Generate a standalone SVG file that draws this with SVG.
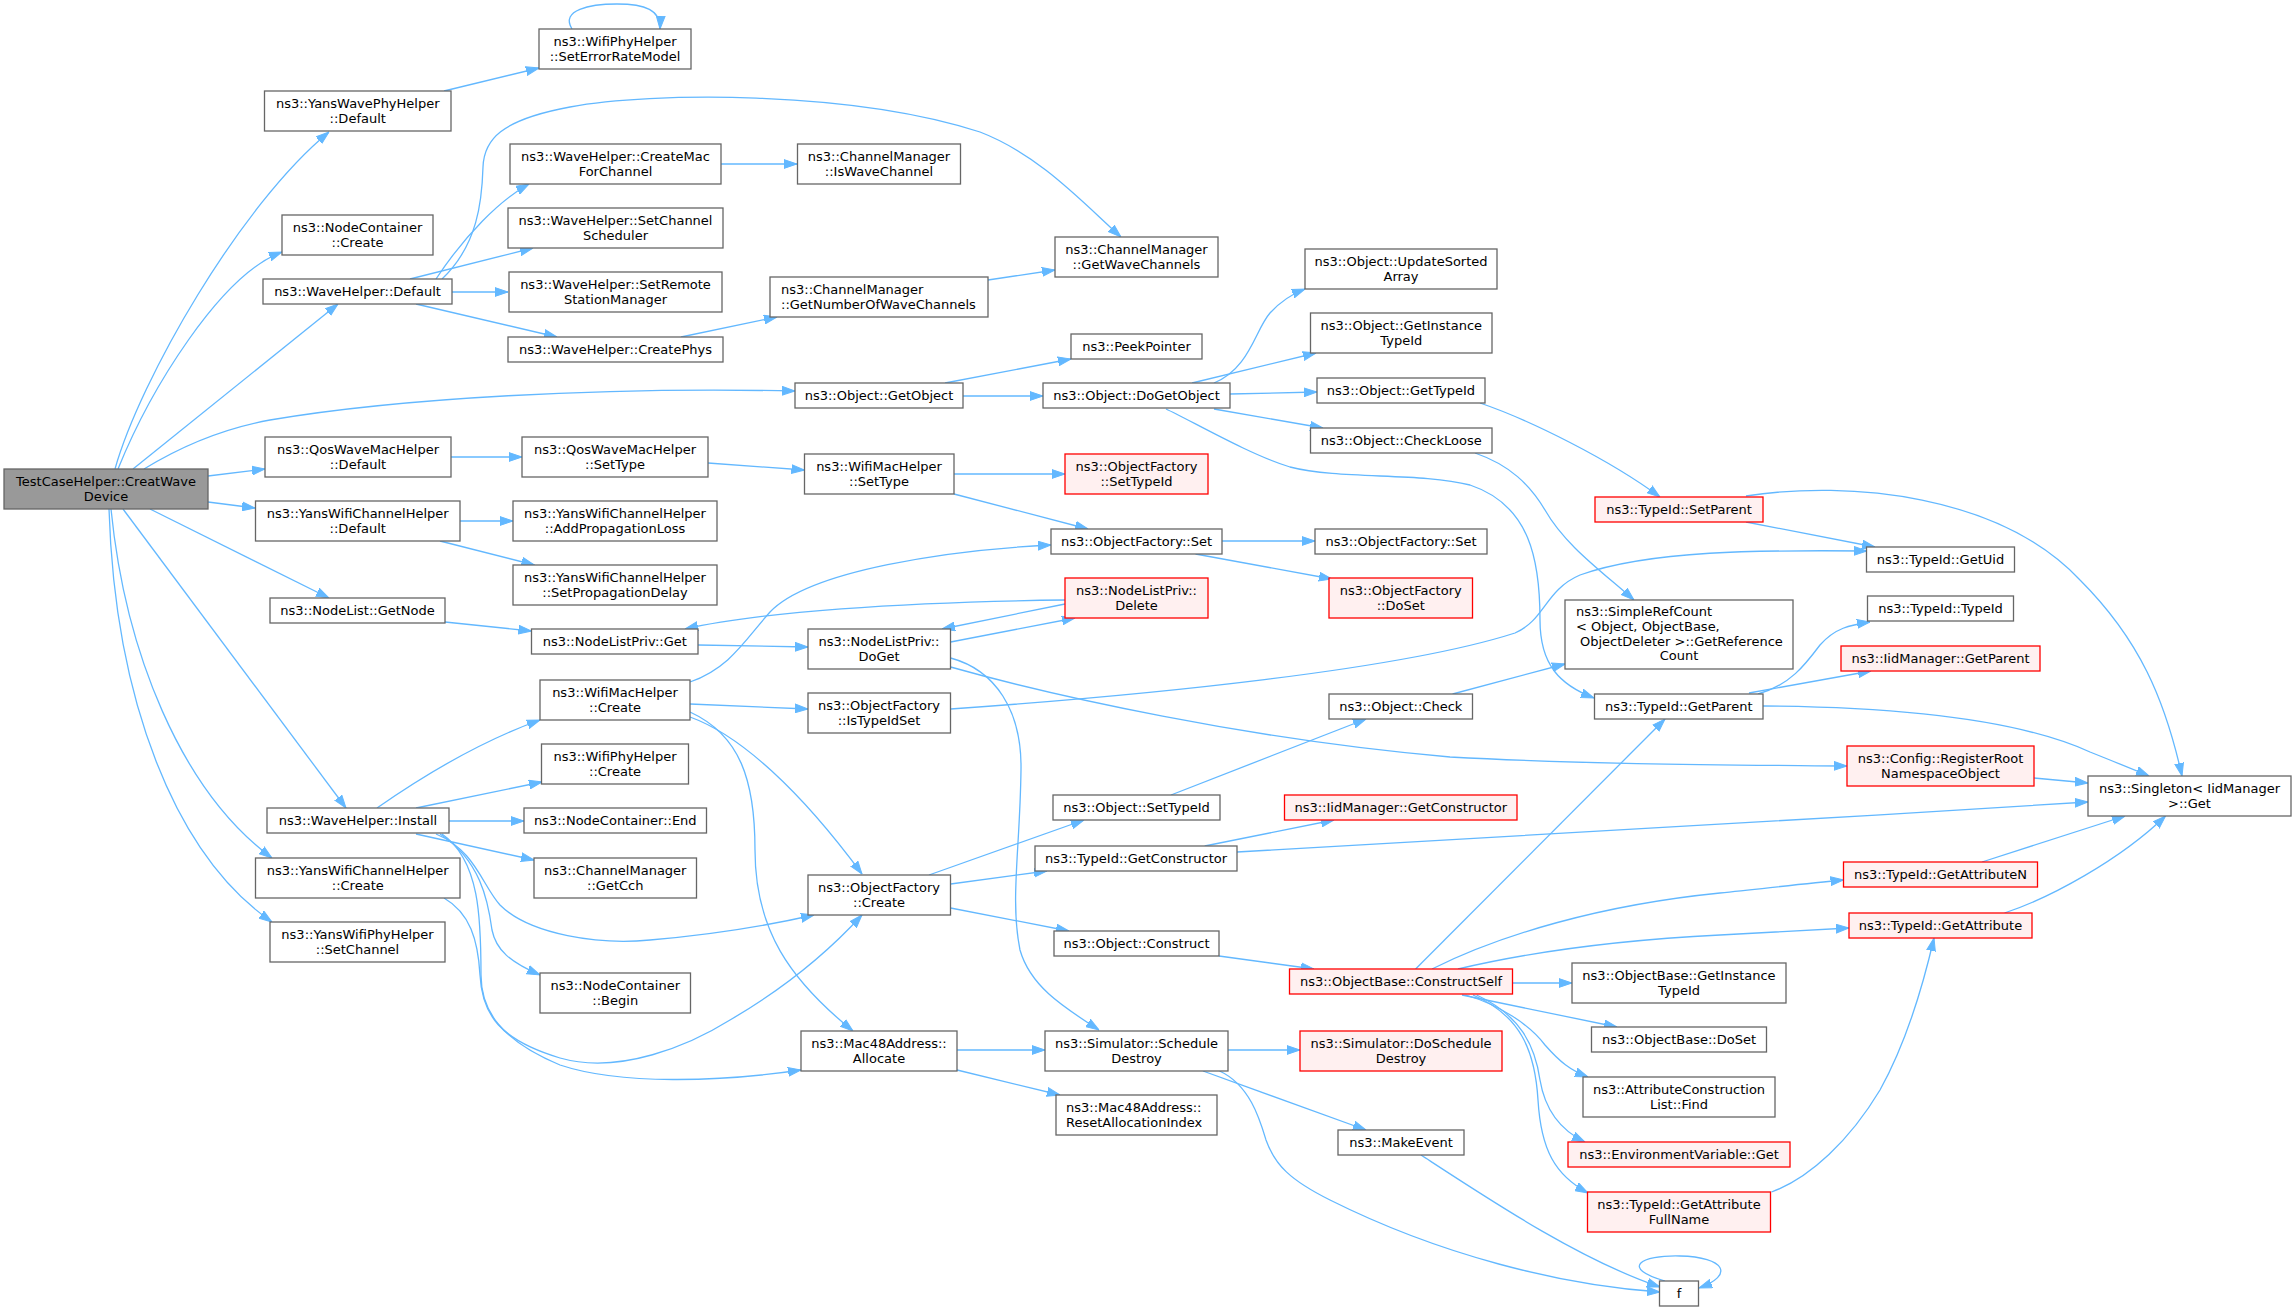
<svg xmlns="http://www.w3.org/2000/svg" width="2296" height="1311" viewBox="0 0 2296 1311">
<defs>
<marker id="a" markerWidth="13" markerHeight="10" refX="13" refY="5" orient="auto" markerUnits="userSpaceOnUse"><path d="M0,0.6 L13,5 L0,9.4 z" fill="#63b8ff" stroke="#63b8ff" stroke-width="1"/></marker>
</defs>
<style>
.n rect{fill:#ffffff;stroke:#666666;stroke-width:1.3}
.r rect{fill:#fff0f0;stroke:#ff0000;stroke-width:1.3}
.root rect{fill:#999999;stroke:#666666;stroke-width:1.3}
text{font-family:"DejaVu Sans","Liberation Sans",sans-serif;font-size:13px;fill:#000000;text-anchor:middle}
text.l{text-anchor:start}
#edges path{fill:none;stroke:#63b8ff;stroke-width:1.3;marker-end:url(#a)}
</style>
<rect x="0" y="0" width="2296" height="1311" fill="#ffffff"/>
<g id="edges">
<path d="M115,469 C140,380 240,205 329,132"/>
<path d="M118,469 C150,390 220,275 282,252"/>
<path d="M133,469 L338,304"/>
<path d="M144,469 C175,450 215,430 270,420 C400,398 600,387 795,391"/>
<path d="M208,476 L265,469"/>
<path d="M208,502 L255,508"/>
<path d="M150,509 L329,598"/>
<path d="M123,509 L346,808"/>
<path d="M111,509 C125,650 180,790 272,858"/>
<path d="M109,509 C115,700 175,855 272,922"/>
<path d="M444,91 L539,68"/>
<path d="M572,29 C560,10 590,4 617,4 C645,4 661,10 660,29"/>
<path d="M436,279 C465,235 500,200 529,184"/>
<path d="M442,279 C478,245 482,200 483,167 C484,140 500,120 570,107 C650,92 850,90 980,132 C1040,155 1085,205 1121,237"/>
<path d="M410,279 L533,248"/>
<path d="M452,292 L508,292"/>
<path d="M416,304 L557,337"/>
<path d="M721,164 L797,164"/>
<path d="M681,337 L777,317"/>
<path d="M988,280 L1055,270"/>
<path d="M945,383 L1071,359"/>
<path d="M963,396 L1043,396"/>
<path d="M1214,383 C1250,368 1255,330 1270,313 C1280,302 1292,294 1305,289"/>
<path d="M1192,383 L1316,353"/>
<path d="M1230,394 L1317,392"/>
<path d="M1214,409 L1323,428"/>
<path d="M1166,409 C1190,420 1250,455 1290,467 C1340,480 1420,472 1470,485 C1530,505 1540,560 1540,620 C1540,665 1560,685 1594,698"/>
<path d="M1475,453 C1510,465 1530,485 1545,510 C1565,545 1600,570 1634,600"/>
<path d="M1480,403 C1530,420 1610,460 1660,497"/>
<path d="M1746,496 C1850,480 2000,495 2080,580 C2140,640 2165,700 2182,776"/>
<path d="M1746,522 L1875,547"/>
<path d="M950.6,709 C1150,695 1400,670 1515,633 C1545,620 1545,590 1580,575 C1650,550 1760,550 1867,551"/>
<path d="M451,457 L522,457"/>
<path d="M708,463 L804.5,470"/>
<path d="M954,474 L1065,474"/>
<path d="M954,494 L1088,529"/>
<path d="M460,521 L513,521"/>
<path d="M440,541 L534.5,565"/>
<path d="M445,622 L531.5,631"/>
<path d="M698,645 L808,647"/>
<path d="M1222,541 L1315,541"/>
<path d="M1195.5,554 L1332,579"/>
<path d="M1065,600 C900,602 760,612 685,629"/>
<path d="M1065,604 L942,629"/>
<path d="M950.6,642 L1075,618"/>
<path d="M950.6,667 C1050,695 1250,740 1450,757 C1600,765 1750,765 1847,766"/>
<path d="M950.6,658 C995,670 1022,710 1021,770 C1020,850 1010,900 1020,950 C1030,985 1060,1005 1099,1030"/>
<path d="M690,682 C730,668 745,640 770,612 C810,570 950,550 1051,545"/>
<path d="M690,704 L808,709"/>
<path d="M690,717 C740,735 800,790 862,874"/>
<path d="M690,712 C740,735 755,780 755,850 C755,930 790,980 853,1031"/>
<path d="M377,808 C410,785 470,745 540,720"/>
<path d="M416,808 L542,782"/>
<path d="M449,821 L524,821"/>
<path d="M416,834 L534,860"/>
<path d="M436,834 C475,850 482,885 500,905 C530,935 600,945 650,940 C710,935 770,925 814,915"/>
<path d="M440,834 C480,860 488,900 492,930 C496,950 510,962 540,975"/>
<path d="M442,834 C480,860 481,920 481,975 C481,1010 500,1040 560,1065 C620,1085 720,1082 801,1070"/>
<path d="M444,898 C470,913 478,940 480,975 C482,1015 500,1040 560,1058 C620,1075 690,1045 730,1020 C790,985 830,950 862,915"/>
<path d="M957,1050 L1045,1050"/>
<path d="M957,1070 L1060,1095"/>
<path d="M929,875 L1084,820"/>
<path d="M950.6,884 L1047,871"/>
<path d="M950.6,908 L1069,931"/>
<path d="M1171,795 L1366,719"/>
<path d="M1452.6,694 L1565,664"/>
<path d="M1204.7,846 L1334,820"/>
<path d="M1237,852 C1500,838 1800,820 2088,802"/>
<path d="M1219,956 L1314,969"/>
<path d="M1228,1050 L1300,1050"/>
<path d="M1203,1071 L1366,1130"/>
<path d="M1219.5,1071 C1250,1085 1260,1120 1266,1140 C1275,1165 1290,1180 1330,1200 C1440,1255 1560,1285 1660,1292"/>
<path d="M1421,1155 C1490,1200 1580,1260 1660,1287"/>
<path d="M1665,1281 C1620,1268 1640,1255 1680,1256 C1725,1257 1735,1275 1699,1288"/>
<path d="M1415.6,969 L1665,719"/>
<path d="M1432,969 C1500,935 1600,905 1720,893 C1760,889 1800,884 1843.6,880"/>
<path d="M1458,969 C1530,952 1620,940 1720,935 C1770,932 1810,930 1849,928"/>
<path d="M1512.5,983 L1572,983"/>
<path d="M1462,995 L1617,1027"/>
<path d="M1465.5,995 C1500,1005 1530,1025 1545,1045 C1560,1062 1570,1070 1588,1077"/>
<path d="M1476.6,995 C1520,1015 1535,1045 1540,1080 C1545,1110 1560,1130 1585,1142"/>
<path d="M1473,995 C1520,1015 1535,1050 1538,1100 C1541,1150 1555,1175 1588,1193"/>
<path d="M1771.5,1192 C1810,1178 1850,1140 1880,1090 C1905,1045 1922,990 1934,938"/>
<path d="M1982,862 L2125,816"/>
<path d="M2004.5,913 C2050,898 2120,860 2165.5,816"/>
<path d="M1758,694 C1790,685 1805,665 1820,645 C1835,628 1850,625 1870,622"/>
<path d="M1749,693 L1871,671"/>
<path d="M1763,706 C1900,707 2020,720 2090,752 C2110,760 2130,768 2149,776"/>
<path d="M2034,778 L2088,783"/>
</g>
<g id="n_root" class="root"><rect x="4" y="469" width="204" height="40"/><text x="106" y="485.5">TestCaseHelper::CreatWave</text><text x="106" y="500.5">Device</text></g>
<g id="n_yanswavephy_default" class="n"><rect x="264.5" y="91" width="186.5" height="40"/><text x="357.75" y="107.5">ns3::YansWavePhyHelper</text><text x="357.75" y="122.5">::Default</text></g>
<g id="n_nodecontainer_create" class="n"><rect x="282" y="215" width="151" height="40"/><text x="357.5" y="231.5">ns3::NodeContainer</text><text x="357.5" y="246.5">::Create</text></g>
<g id="n_wavehelper_default" class="n"><rect x="263" y="279" width="189" height="25"/><text x="357.5" y="296">ns3::WaveHelper::Default</text></g>
<g id="n_qoswave_default" class="n"><rect x="265" y="437" width="186" height="40"/><text x="358" y="453.5">ns3::QosWaveMacHelper</text><text x="358" y="468.5">::Default</text></g>
<g id="n_yanswifichannel_default" class="n"><rect x="255.5" y="501" width="204.5" height="40"/><text x="357.75" y="517.5">ns3::YansWifiChannelHelper</text><text x="357.75" y="532.5">::Default</text></g>
<g id="n_nodelist_getnode" class="n"><rect x="270" y="598" width="175" height="25"/><text x="357.5" y="615">ns3::NodeList::GetNode</text></g>
<g id="n_wavehelper_install" class="n"><rect x="267" y="808" width="182" height="25"/><text x="358" y="825">ns3::WaveHelper::Install</text></g>
<g id="n_yanswifichannel_create" class="n"><rect x="255.5" y="858" width="204.5" height="40"/><text x="357.75" y="874.5">ns3::YansWifiChannelHelper</text><text x="357.75" y="889.5">::Create</text></g>
<g id="n_yanswifiphy_setchannel" class="n"><rect x="270" y="922" width="175" height="40"/><text x="357.5" y="938.5">ns3::YansWifiPhyHelper</text><text x="357.5" y="953.5">::SetChannel</text></g>
<g id="n_seterrorratemodel" class="n"><rect x="539" y="29" width="152" height="40"/><text x="615" y="45.5">ns3::WifiPhyHelper</text><text x="615" y="60.5">::SetErrorRateModel</text></g>
<g id="n_createmacforchannel" class="n"><rect x="510" y="144" width="211" height="40"/><text x="615.5" y="160.5">ns3::WaveHelper::CreateMac</text><text x="615.5" y="175.5">ForChannel</text></g>
<g id="n_setchannelscheduler" class="n"><rect x="508" y="208" width="215" height="40"/><text x="615.5" y="224.5">ns3::WaveHelper::SetChannel</text><text x="615.5" y="239.5">Scheduler</text></g>
<g id="n_setremotestationmanager" class="n"><rect x="509" y="272" width="213" height="40"/><text x="615.5" y="288.5">ns3::WaveHelper::SetRemote</text><text x="615.5" y="303.5">StationManager</text></g>
<g id="n_createphys" class="n"><rect x="508" y="337" width="215" height="25"/><text x="615.5" y="354">ns3::WaveHelper::CreatePhys</text></g>
<g id="n_qoswave_settype" class="n"><rect x="522" y="437" width="186" height="40"/><text x="615" y="453.5">ns3::QosWaveMacHelper</text><text x="615" y="468.5">::SetType</text></g>
<g id="n_addpropagationloss" class="n"><rect x="513" y="501" width="204" height="40"/><text x="615" y="517.5">ns3::YansWifiChannelHelper</text><text x="615" y="532.5">::AddPropagationLoss</text></g>
<g id="n_setpropagationdelay" class="n"><rect x="513" y="565" width="204" height="40"/><text x="615" y="581.5">ns3::YansWifiChannelHelper</text><text x="615" y="596.5">::SetPropagationDelay</text></g>
<g id="n_nodelistpriv_get" class="n"><rect x="531.5" y="629" width="166.5" height="25"/><text x="614.75" y="646">ns3::NodeListPriv::Get</text></g>
<g id="n_wifimac_create" class="n"><rect x="540" y="680" width="150" height="40"/><text x="615" y="696.5">ns3::WifiMacHelper</text><text x="615" y="711.5">::Create</text></g>
<g id="n_wifiphy_create" class="n"><rect x="541.5" y="744" width="147" height="40"/><text x="615" y="760.5">ns3::WifiPhyHelper</text><text x="615" y="775.5">::Create</text></g>
<g id="n_nodecontainer_end" class="n"><rect x="524" y="808" width="182.5" height="25"/><text x="615.25" y="825">ns3::NodeContainer::End</text></g>
<g id="n_getcch" class="n"><rect x="534" y="858" width="162.5" height="40"/><text x="615.25" y="874.5">ns3::ChannelManager</text><text x="615.25" y="889.5">::GetCch</text></g>
<g id="n_nodecontainer_begin" class="n"><rect x="540" y="973" width="150.5" height="40"/><text x="615.25" y="989.5">ns3::NodeContainer</text><text x="615.25" y="1004.5">::Begin</text></g>
<g id="n_iswavechannel" class="n"><rect x="797.5" y="144" width="163" height="40"/><text x="879" y="160.5">ns3::ChannelManager</text><text x="879" y="175.5">::IsWaveChannel</text></g>
<g id="n_getnumberofwavechannels" class="n"><rect x="770" y="277" width="218" height="40"/><text class="l" x="781" y="293.5">ns3::ChannelManager</text><text class="l" x="781" y="308.5">::GetNumberOfWaveChannels</text></g>
<g id="n_getobject" class="n"><rect x="795" y="383" width="168" height="25"/><text x="879" y="400">ns3::Object::GetObject</text></g>
<g id="n_wifimac_settype" class="n"><rect x="804.5" y="454" width="149.5" height="40"/><text x="879" y="470.5">ns3::WifiMacHelper</text><text x="879" y="485.5">::SetType</text></g>
<g id="n_doget" class="n"><rect x="808" y="629" width="142.5" height="40"/><text x="879" y="645.5">ns3::NodeListPriv::</text><text x="879" y="660.5">DoGet</text></g>
<g id="n_istypeidset" class="n"><rect x="808" y="693" width="142.5" height="40"/><text x="879" y="709.5">ns3::ObjectFactory</text><text x="879" y="724.5">::IsTypeIdSet</text></g>
<g id="n_of_create" class="n"><rect x="808" y="875" width="142.5" height="40"/><text x="879" y="891.5">ns3::ObjectFactory</text><text x="879" y="906.5">::Create</text></g>
<g id="n_mac48_allocate" class="n"><rect x="801" y="1031" width="156" height="40"/><text x="879" y="1047.5">ns3::Mac48Address::</text><text x="879" y="1062.5">Allocate</text></g>
<g id="n_getwavechannels" class="n"><rect x="1055" y="237" width="163" height="40"/><text x="1136.5" y="253.5">ns3::ChannelManager</text><text x="1136.5" y="268.5">::GetWaveChannels</text></g>
<g id="n_peekpointer" class="n"><rect x="1071" y="334" width="131" height="25"/><text x="1136.5" y="351">ns3::PeekPointer</text></g>
<g id="n_dogetobject" class="n"><rect x="1043" y="383" width="187" height="25"/><text x="1136.5" y="400">ns3::Object::DoGetObject</text></g>
<g id="n_of_settypeid" class="r"><rect x="1065" y="454" width="143" height="40"/><text x="1136.5" y="470.5">ns3::ObjectFactory</text><text x="1136.5" y="485.5">::SetTypeId</text></g>
<g id="n_of_set1" class="n"><rect x="1051" y="529" width="171" height="25"/><text x="1136.5" y="546">ns3::ObjectFactory::Set</text></g>
<g id="n_delete" class="r"><rect x="1065" y="578" width="143" height="40"/><text x="1136.5" y="594.5">ns3::NodeListPriv::</text><text x="1136.5" y="609.5">Delete</text></g>
<g id="n_obj_settypeid" class="n"><rect x="1053" y="795" width="167" height="25"/><text x="1136.5" y="812">ns3::Object::SetTypeId</text></g>
<g id="n_getconstructor" class="n"><rect x="1035" y="846" width="202" height="25"/><text x="1136" y="863">ns3::TypeId::GetConstructor</text></g>
<g id="n_construct" class="n"><rect x="1054" y="931" width="165" height="25"/><text x="1136.5" y="948">ns3::Object::Construct</text></g>
<g id="n_scheduledestroy" class="n"><rect x="1045" y="1031" width="183" height="40"/><text x="1136.5" y="1047.5">ns3::Simulator::Schedule</text><text x="1136.5" y="1062.5">Destroy</text></g>
<g id="n_resetallocationindex" class="n"><rect x="1056" y="1095" width="161" height="40"/><text class="l" x="1066" y="1111.5">ns3::Mac48Address::</text><text class="l" x="1066" y="1126.5">ResetAllocationIndex</text></g>
<g id="n_updatesortedarray" class="n"><rect x="1305" y="249" width="192" height="40"/><text x="1401" y="265.5">ns3::Object::UpdateSorted</text><text x="1401" y="280.5">Array</text></g>
<g id="n_obj_getinstancetypeid" class="n"><rect x="1310.5" y="313" width="181.5" height="40"/><text x="1401.25" y="329.5">ns3::Object::GetInstance</text><text x="1401.25" y="344.5">TypeId</text></g>
<g id="n_obj_gettypeid" class="n"><rect x="1317" y="378" width="168" height="25"/><text x="1401" y="395">ns3::Object::GetTypeId</text></g>
<g id="n_checkloose" class="n"><rect x="1310.5" y="428" width="181.5" height="25"/><text x="1401.25" y="445">ns3::Object::CheckLoose</text></g>
<g id="n_of_set2" class="n"><rect x="1315" y="529" width="172" height="25"/><text x="1401" y="546">ns3::ObjectFactory::Set</text></g>
<g id="n_doset" class="r"><rect x="1329" y="578" width="143.5" height="40"/><text x="1400.75" y="594.5">ns3::ObjectFactory</text><text x="1400.75" y="609.5">::DoSet</text></g>
<g id="n_check" class="n"><rect x="1329" y="694" width="143.5" height="25"/><text x="1400.75" y="711">ns3::Object::Check</text></g>
<g id="n_iid_getconstructor" class="r"><rect x="1284.5" y="795" width="232.5" height="25"/><text x="1400.75" y="812">ns3::IidManager::GetConstructor</text></g>
<g id="n_constructself" class="r"><rect x="1289.5" y="969" width="223" height="25"/><text x="1401" y="986">ns3::ObjectBase::ConstructSelf</text></g>
<g id="n_doscheduledestroy" class="r"><rect x="1300" y="1031" width="202" height="40"/><text x="1401" y="1047.5">ns3::Simulator::DoSchedule</text><text x="1401" y="1062.5">Destroy</text></g>
<g id="n_makeevent" class="n"><rect x="1338" y="1130" width="126" height="25"/><text x="1401" y="1147">ns3::MakeEvent</text></g>
<g id="n_setparent" class="r"><rect x="1595" y="497" width="168" height="25"/><text x="1679" y="514">ns3::TypeId::SetParent</text></g>
<g id="n_simplerefcount" class="n"><rect x="1565" y="600" width="228" height="69"/><text class="l" x="1576" y="616">ns3::SimpleRefCount</text><text class="l" x="1576" y="631">&lt; Object, ObjectBase,</text><text class="l" x="1580" y="645.5">ObjectDeleter &gt;::GetReference</text><text x="1679" y="660">Count</text></g>
<g id="n_getparent" class="n"><rect x="1594.5" y="694" width="168.5" height="25"/><text x="1678.75" y="711">ns3::TypeId::GetParent</text></g>
<g id="n_ob_getinstancetypeid" class="n"><rect x="1572" y="963" width="214" height="40"/><text x="1679" y="979.5">ns3::ObjectBase::GetInstance</text><text x="1679" y="994.5">TypeId</text></g>
<g id="n_ob_doset" class="n"><rect x="1591.5" y="1027" width="175" height="25"/><text x="1679" y="1044">ns3::ObjectBase::DoSet</text></g>
<g id="n_attrfind" class="n"><rect x="1583" y="1077" width="192" height="40"/><text x="1679" y="1093.5">ns3::AttributeConstruction</text><text x="1679" y="1108.5">List::Find</text></g>
<g id="n_envget" class="r"><rect x="1568" y="1142" width="222" height="25"/><text x="1679" y="1159">ns3::EnvironmentVariable::Get</text></g>
<g id="n_getattrfullname" class="r"><rect x="1587.5" y="1192" width="183" height="40"/><text x="1679" y="1208.5">ns3::TypeId::GetAttribute</text><text x="1679" y="1223.5">FullName</text></g>
<g id="n_f" class="n"><rect x="1659.5" y="1281" width="39" height="25"/><text x="1679" y="1298">f</text></g>
<g id="n_getuid" class="n"><rect x="1866.5" y="547" width="148" height="25"/><text x="1940.5" y="564">ns3::TypeId::GetUid</text></g>
<g id="n_typeid_typeid" class="n"><rect x="1867.5" y="596" width="146" height="25"/><text x="1940.5" y="613">ns3::TypeId::TypeId</text></g>
<g id="n_iid_getparent" class="r"><rect x="1841" y="646" width="199" height="25"/><text x="1940.5" y="663">ns3::IidManager::GetParent</text></g>
<g id="n_registerroot" class="r"><rect x="1847" y="746" width="187" height="40"/><text x="1940.5" y="762.5">ns3::Config::RegisterRoot</text><text x="1940.5" y="777.5">NamespaceObject</text></g>
<g id="n_getattributen" class="r"><rect x="1843.5" y="862" width="194" height="25"/><text x="1940.5" y="879">ns3::TypeId::GetAttributeN</text></g>
<g id="n_getattribute" class="r"><rect x="1849" y="913" width="183" height="25"/><text x="1940.5" y="930">ns3::TypeId::GetAttribute</text></g>
<g id="n_singleton" class="n"><rect x="2088" y="776" width="203" height="40"/><text x="2189.5" y="792.5">ns3::Singleton&lt; IidManager</text><text x="2189.5" y="807.5">&gt;::Get</text></g>
</svg>
